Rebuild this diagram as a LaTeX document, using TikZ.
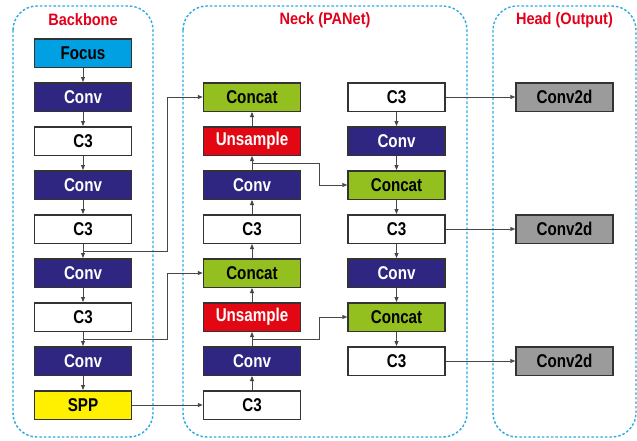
\documentclass[tikz,border=0pt]{standalone}
\usepackage{fontspec}
\setmainfont{Liberation Sans}
\newfontfamily\boxfont[FakeStretch=0.82]{Liberation Sans}
\newfontfamily\titlefont[FakeStretch=0.88]{Liberation Sans}
\usetikzlibrary{arrows.meta,calc}
\definecolor{cFocus}{HTML}{00A0E3}
\definecolor{cConv}{HTML}{2E2680}
\definecolor{cConcat}{HTML}{93C01F}
\definecolor{cUp}{HTML}{E30613}
\definecolor{cSPP}{HTML}{FFF000}
\definecolor{cHead}{HTML}{9B9B9B}
\definecolor{cEdge}{HTML}{333333}
\definecolor{cFrame}{HTML}{29ABE2}
\definecolor{cTitle}{HTML}{E2001A}
\begin{document}
\begin{tikzpicture}[x=1pt,y=-1pt,
  block/.style={draw=cEdge,line width=1.5pt,minimum width=97pt,minimum height=28.5pt,
    inner sep=0pt,font=\boxfont\bfseries\fontsize{18.5}{21}\selectfont},
  focusbox/.style={block,fill=cFocus,text=black},
  convbox/.style={block,fill=cConv,text=white},
  cthree/.style={block,fill=white,text=black},
  concatbox/.style={block,fill=cConcat,text=black},
  upbox/.style={block,fill=cUp,text=white},
  sppbox/.style={block,fill=cSPP,text=black},
  headbox/.style={block,fill=cHead,text=black},
  frame/.style={draw=cFrame,line width=1.4pt,dash pattern=on 2.5pt off 2pt,rounded corners=24pt},
  title/.style={text=cTitle,font=\titlefont\bfseries\fontsize{16.5}{19}\selectfont},
  arr/.style={draw=cEdge!90,line width=0.9pt,-{Triangle[length=5pt,width=4pt]}},
  link/.style={draw=cEdge!90,line width=0.9pt}]
\useasboundingbox (0,0) rectangle (637,440);

% section frames and titles
\draw[frame] (13,6) rectangle (153,437);
\draw[frame] (183,6) rectangle (467,437);
\draw[frame] (493,6) rectangle (636,437);
\node[title] (tb) at (83,20) {Backbone};
\node[title] (tn) at (325,20) {Neck (PANet)};
\node[title] (th) at (564.5,20) {Head (Output)};

% backbone column
\node[focusbox] (b1) at (83,53) {Focus};
\node[convbox]  (b2) at (83,97) {Conv};
\node[cthree]   (b3) at (83,141) {C3};
\node[convbox]  (b4) at (83,185) {Conv};
\node[cthree]   (b5) at (83,229) {C3};
\node[convbox]  (b6) at (83,273) {Conv};
\node[cthree]   (b7) at (83,317) {C3};
\node[convbox]  (b8) at (83,361) {Conv};
\node[sppbox]   (b9) at (83,405) {SPP};

% neck, top-down path
\node[concatbox] (n1) at (252,97) {Concat};
\node[upbox]     (n2) at (252,141) {Unsample};
\node[convbox]   (n3) at (252,185) {Conv};
\node[cthree]    (n4) at (252,229) {C3};
\node[concatbox] (n5) at (252,273) {Concat};
\node[upbox]     (n6) at (252,317) {Unsample};
\node[convbox]   (n7) at (252,361) {Conv};
\node[cthree]    (n8) at (252,405) {C3};

% neck, bottom-up path
\node[cthree]    (r1) at (396.5,97) {C3};
\node[convbox]   (r2) at (396.5,141) {Conv};
\node[concatbox] (r3) at (396.5,185) {Concat};
\node[cthree]    (r4) at (396.5,229) {C3};
\node[convbox]   (r5) at (396.5,273) {Conv};
\node[concatbox] (r6) at (396.5,317) {Concat};
\node[cthree]    (r7) at (396.5,361) {C3};

% detection heads
\node[headbox] (h1) at (564.5,97) {Conv2d};
\node[headbox] (h2) at (564.5,229) {Conv2d};
\node[headbox] (h3) at (564.5,361) {Conv2d};

% backbone flow
\foreach \a/\b in {b1/b2,b2/b3,b3/b4,b4/b5,b5/b6,b6/b7,b7/b8,b8/b9}
  \draw[arr] (\a.south) -- (\b.north);
% neck upward flow
\foreach \a/\b in {n8/n7,n7/n6,n6/n5,n5/n4,n4/n3,n3/n2,n2/n1}
  \draw[arr] (\a.north) -- (\b.south);
% neck downward flow
\foreach \a/\b in {r1/r2,r2/r3,r3/r4,r4/r5,r5/r6,r6/r7}
  \draw[arr] (\a.south) -- (\b.north);

% lateral connections
\coordinate (jA) at ($(b5.south)!0.5!(b6.north)$);
\coordinate (jB) at ($(b7.south)!0.5!(b8.north)$);
\coordinate (jC) at ($(n3.north)!0.5!(n2.south)$);
\coordinate (jD) at ($(n7.north)!0.5!(n6.south)$);
\draw[arr] (jA) -| ([xshift=-35pt]n1.west) -- (n1.west);
\draw[arr] (jB) -| ([xshift=-35pt]n5.west) -- (n5.west);
\draw[arr] (b9.east) -- (n8.west);
\draw[arr] (jC) -| ([xshift=-28pt]r3.west) -- (r3.west);
\draw[arr] (jD) -| ([xshift=-28pt]r6.west) -- (r6.west);

% outputs to heads
\draw[arr] (r1.east) -- (h1.west);
\draw[arr] (r4.east) -- (h2.west);
\draw[arr] (r7.east) -- (h3.west);
\end{tikzpicture}
\end{document}
